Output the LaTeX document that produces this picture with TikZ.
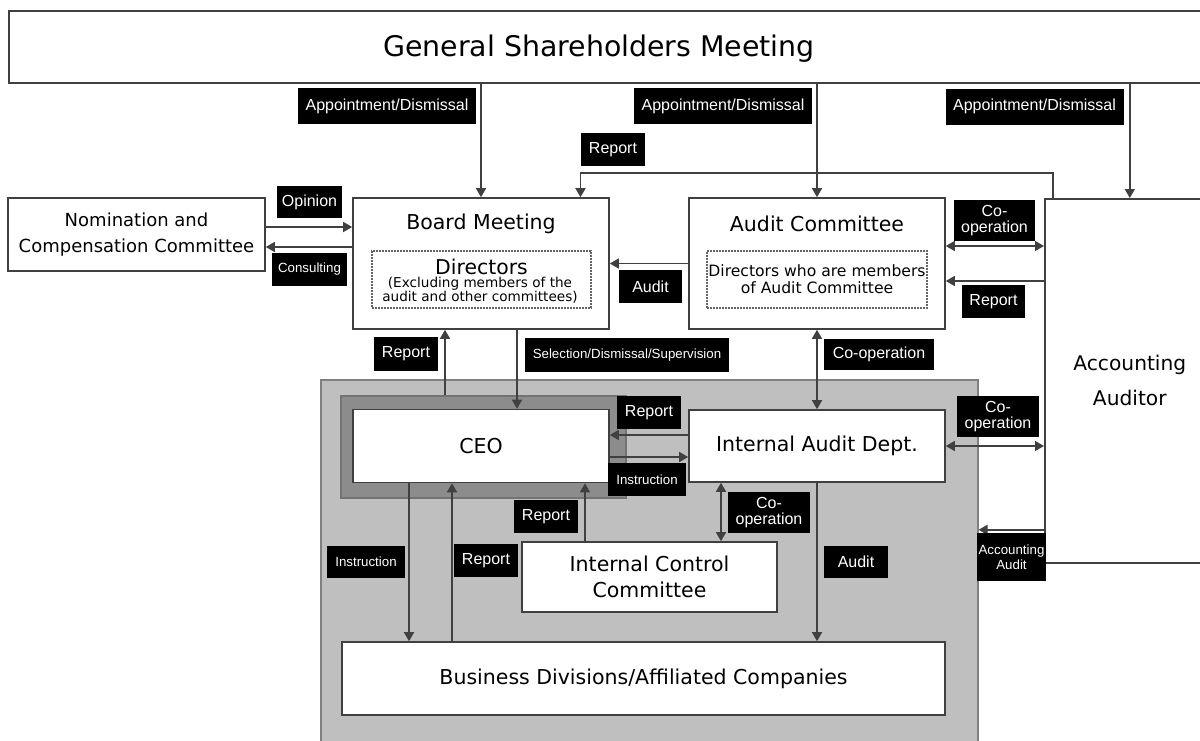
\documentclass[tikz,border=0pt]{standalone}
\usepackage{fontspec}
\setmainfont{DejaVu Sans}
\newfontfamily\tagfont{Liberation Sans}
\usetikzlibrary{arrows.meta,calc}

\begin{document}
\begin{tikzpicture}[
    x=1pt, y=-1pt,
    font=\fontsize{20.5}{24}\selectfont,
    box/.style={draw=black!75, line width=1.6pt, fill=white, inner sep=0pt},
    inner/.style={draw=black!60, line width=1.3pt, dash pattern=on 1.6pt off 1.4pt, inner sep=0pt},
    tag/.style={fill=black, text=white, inner sep=0pt, align=center,
                font=\tagfont\fontsize{16}{16}\selectfont},
    smalltag/.style={tag, font=\tagfont\fontsize{13.3}{15}\selectfont},
    arrow/.style={line width=1.5pt, draw=black!75, arrows={-Triangle[length=9pt,width=10pt]}},
    twoway/.style={arrow, arrows={Triangle[length=9pt,width=10pt]-Triangle[length=9pt,width=10pt]}}
]
\useasboundingbox (0,0) rectangle (1200,740);
\clip (0,0) rectangle (1200,740);
\fill[white] (0,0) rectangle (1200,740);

% 1) gray block for the executive side
\node[draw=black!50, line width=1.6pt, fill=black!25, anchor=north west,
      minimum width=657pt, minimum height=380pt] (exec) at (320,379) {};
\node[draw=black!55, line width=1.5pt, fill=black!45, anchor=north west,
      minimum width=285pt, minimum height=102pt] (ceoframe) at (340,395) {};

% 2) General Shareholders Meeting
\node[box, anchor=north west, minimum width=1210pt, minimum height=72pt] (gsm) at (8,10) {};
\node[font=\fontsize{28.4}{32}\selectfont] (gsmtext) at (599,49) {General Shareholders Meeting};

% 3) Nomination and Compensation Committee
\node[box, minimum width=257pt, minimum height=73pt, align=center,
      font=\fontsize{18}{26}\selectfont] (nom) at (136.5,234.5) {Nomination and\\Compensation Committee};

% 4) Board Meeting
\node[box, minimum width=256pt, minimum height=131pt] (board) at (481,263.5) {};
\node (boardtitle) at (481,223.5) {Board Meeting};
\node[inner, minimum width=219pt, minimum height=57pt] (directors) at (481.5,279.5) {};
\node[font=\fontsize{20.4}{24}\selectfont] (dirname) at (481.5,267) {Directors};
\node[align=center, font=\fontsize{13.6}{13}\selectfont] (dirnote) at (480,290.5)
     {(Excluding members of the\\audit and other committees)};

% 5) Audit Committee
\node[box, minimum width=256pt, minimum height=131pt] (audit) at (817,263.5) {};
\node (audittitle) at (817,223.5) {Audit Committee};
\node[inner, minimum width=220pt, minimum height=57pt, align=center,
      font=\fontsize{15.6}{17}\selectfont] (members) at (817,279.5)
     {Directors who are members\\of Audit Committee};

% 6) Accounting Auditor
\node[box, anchor=north west, minimum width=170pt, minimum height=364pt, align=center,
      font=\fontsize{20.2}{35}\selectfont] (auditor) at (1044,198) {Accounting\\Auditor};

% 7) executive boxes
\node[box, minimum width=256pt, minimum height=73pt] (ceo) at (481,446) {CEO};
\node[box, minimum width=256pt, minimum height=72pt] (iad) at (817,446) {Internal Audit Dept.};
\node[box, minimum width=255pt, minimum height=70pt, align=center,
      font=\fontsize{20.5}{26}\selectfont] (icc) at (649.5,577) {Internal Control\\Committee};
\node[box, minimum width=603pt, minimum height=73pt] (bd) at (643.5,678.5)
     {Business Divisions/Affiliated Companies};

% 8) connectors
\draw[arrow] (gsm.south -| board) -- (board);
\draw[arrow] (gsm.south -| audit) -- (audit);
\draw[arrow] (gsm.south -| auditor) -- (auditor);

\coordinate (rpbend) at (1053,173);
\draw[arrow] (rpbend |- auditor.north) -- (rpbend) -| ([xshift=99.5pt]board.north);

\draw[arrow] ([yshift=7.5pt]nom.east) -- ([yshift=7.5pt]nom.east -| board.west);
\draw[arrow] ([yshift=-12.5pt]nom.east -| board.west) -- ([yshift=-12.5pt]nom.east);

\draw[arrow] (audit.west) -- (audit.west -| board.east);
\draw[twoway] ([yshift=17.5pt]audit.east) -- ([yshift=17.5pt]audit.east -| auditor.west);
\draw[arrow] ([yshift=-17.5pt]audit.east -| auditor.west) -- ([yshift=-17.5pt]audit.east);

\draw[arrow] ([xshift=-36pt]board.south |- ceoframe.north) -- ([xshift=-36pt]board.south);
\draw[arrow] ([xshift=36pt]board.south) -- ([xshift=36pt]board.south |- ceo.north);
\draw[twoway] (audit) -- (iad);

\draw[arrow] ([yshift=11pt]iad.west) -- ([yshift=11pt]iad.west -| ceo.east);
\draw[arrow] ([yshift=-11pt]ceo.east) -- ([yshift=-11pt]ceo.east -| iad.west);
\draw[twoway] (iad.east) -- (iad.east -| auditor.west);
\draw[twoway] ([xshift=-96pt]iad.south) -- ([xshift=-96pt]iad.south |- icc.north);

\draw[arrow] ([xshift=-64.5pt]icc.north) -- ([xshift=-64.5pt]icc.north |- ceo.south);
\draw[arrow] (iad.south) -- (iad.south |- bd.north);
\draw[arrow] ([xshift=-72pt]ceo.south) -- ([xshift=-72pt]ceo.south |- bd.north);
\draw[arrow] ([xshift=-29pt]ceo.south |- bd.north) -- ([xshift=-29pt]ceo.south);

\draw[arrow] ([yshift=-149pt]auditor.west) -- ([yshift=-149pt]auditor.west -| exec.east);

% 9) black tags on the connectors
\node[tag, minimum width=178pt, minimum height=36pt] (appt1) at (387,106) {Appointment/Dismissal};
\node[tag, minimum width=178pt, minimum height=36pt] (appt2) at (723,106) {Appointment/Dismissal};
\node[tag, minimum width=178pt, minimum height=36pt] (appt3) at (1034.5,106.5) {Appointment/Dismissal};
\node[tag, minimum width=64pt, minimum height=33pt] (reptop) at (613,149.5) {Report};
\node[tag, minimum width=65pt, minimum height=32pt] (opinion) at (309.5,202) {Opinion};
\node[smalltag, minimum width=75pt, minimum height=33pt] (consult) at (309.5,269.5) {Consulting};
\node[tag, minimum width=63pt, minimum height=33pt] (auditup) at (650.5,286.5) {Audit};
\node[tag, minimum width=81pt, minimum height=41pt] (coop1) at (994.5,220.5) {Co-\\operation};
\node[tag, minimum width=63pt, minimum height=33pt] (repright) at (993.5,301.5) {Report};
\node[tag, minimum width=64pt, minimum height=34pt] (repboard) at (406,354) {Report};
\node[smalltag, minimum width=204pt, minimum height=34pt] (select) at (627,355) {Selection/Dismissal/Supervision};
\node[tag, minimum width=110pt, minimum height=31pt] (coop2) at (879,354.5) {Co-operation};
\node[tag, minimum width=64pt, minimum height=33pt] (repceo) at (649,412.5) {Report};
\node[smalltag, minimum width=78pt, minimum height=33pt] (instr1) at (647,479.5) {Instruction};
\node[tag, minimum width=82pt, minimum height=41pt] (coop3) at (998,416.5) {Co-\\operation};
\node[tag, minimum width=82pt, minimum height=41pt] (coop4) at (769,512.5) {Co-\\operation};
\node[tag, minimum width=64pt, minimum height=33pt] (repicc) at (546,516.5) {Report};
\node[smalltag, minimum width=78pt, minimum height=32pt] (instr2) at (366,562) {Instruction};
\node[tag, minimum width=64pt, minimum height=33pt] (repbd) at (486,560.5) {Report};
\node[tag, minimum width=64pt, minimum height=32pt] (auditdown) at (856,562) {Audit};
\node[smalltag, minimum width=69pt, minimum height=48pt] (accaudit) at (1011.5,557) {Accounting\\Audit};
\end{tikzpicture}
\end{document}
